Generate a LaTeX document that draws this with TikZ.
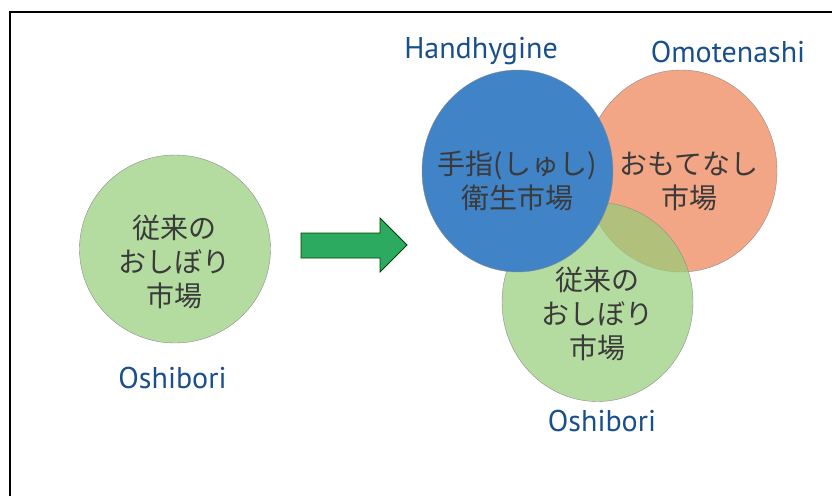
\documentclass[tikz,border=0pt]{standalone}
\usepackage{fontspec}
\setmainfont{PT Sans}
\newfontfamily\jpfont{Noto Sans CJK JP}
\usetikzlibrary{positioning,shapes.geometric}
\definecolor{handblue}{RGB}{64,131,198}
\definecolor{omoorange}{RGB}{243,166,134}
\definecolor{oshigreen}{RGB}{150,205,120}
\definecolor{tagblue}{RGB}{25,80,140}
\definecolor{arrowgreen}{RGB}{44,170,95}
\definecolor{jptext}{RGB}{58,58,58}
\tikzset{
  market/.style={ellipse, inner sep=0pt, minimum width=192pt, minimum height=202pt, draw=black!45, line width=0.4pt},
  oshi/.style={market, fill=oshigreen, fill opacity=0.7},
  jplabel/.style={align=center, text=jptext, inner sep=0pt, font=\jpfont\fontsize{28}{34}\selectfont},
  tag/.style={anchor=base, text=tagblue, inner sep=0pt, font=\fontsize{30}{34}\selectfont}
}

\begin{document}
\begin{tikzpicture}[x=1pt,y=-1pt]
	\useasboundingbox (0,0) rectangle (832,495);
	\draw[line width=2.4pt] (9.7,500) -- (9.7,12) -- (840,12);
	% before
	\node[oshi, minimum width=191pt, minimum height=188pt] (oshiL) at (175,249) {};
	\node[jplabel] (oshiLtext) at (174,262) {従来の\\おしぼり\\市場};
	\node[tag] (oshiLtag) at (172.5,388) {Oshibori};
	% arrow
	\filldraw[fill=arrowgreen, draw=black!75!green, line width=0.8pt]
		(301,233) -- (380,233) -- (380,218) -- (407,245) -- (380,272) -- (380,258) -- (301,258) -- cycle;
	% after
	\node[market, fill=omoorange] (omo) at (681,171) {};
	\node[oshi, minimum width=191pt, minimum height=199pt] (oshiR) at (597.5,302) {};
	\node[market, fill=handblue, minimum width=191pt] (hand) at (517.5,171) {};
	\node[jplabel] (handtext) at (517,181) {手指(しゅし)\\衛生市場};
	\node[jplabel] (omotext) at (689,181) {おもてなし\\市場};
	\node[jplabel] (oshiRtext) at (597,314) {従来の\\おしぼり\\市場};
	\node[tag] (handtag) at (481,59) {Handhygine};
	\node[tag] (omotag) at (728,63) {Omotenashi};
	\node[tag] (oshiRtag) at (602,431) {Oshibori};
\end{tikzpicture}
\end{document}
